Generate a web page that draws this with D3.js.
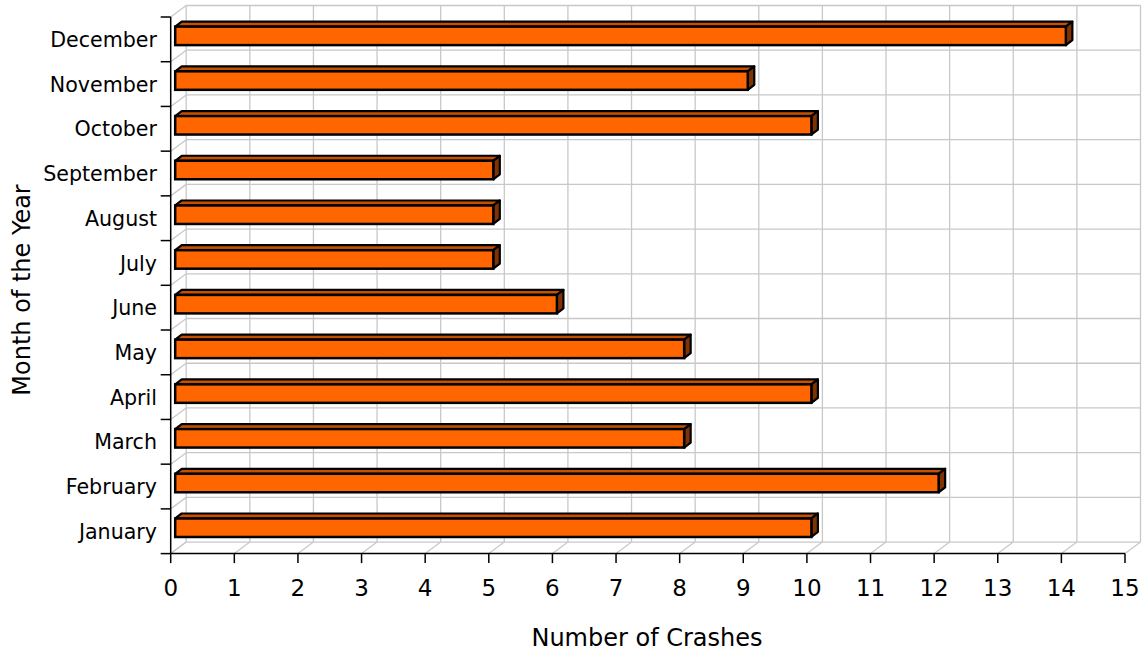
<!DOCTYPE html>
<html>
<head>
<meta charset="utf-8">
<script src="https://cdn.jsdelivr.net/npm/d3@7/dist/d3.min.js"></script>
<style>
  html, body { margin: 0; padding: 0; background: #ffffff; }
  svg { display: block; }
  text { font-family: "DejaVu Sans", Verdana, sans-serif; fill: #000; }
</style>
</head>
<body>
<svg id="chart" width="1146" height="653"></svg>
<script>
// Crashes per month
const months = ["January", "February", "March", "April", "May", "June",
                "July", "August", "September", "October", "November", "December"];
const crashes = [10, 12, 8, 10, 8, 6, 5, 5, 5, 10, 9, 14];
const xTicks = d3.range(0, 16);

const svg = d3.select("#chart");

// Front plane of the 3D plot
const plotLeft = 170.7, plotRight = 1125, plotTop = 17, plotBottom = 553.6;
// Depth vector from the front plane to the back wall
const depth = { dx: 15.5, dy: -11.5 };
// Bar placement inside the depth
const barOff = { dx: 4.5, dy: -3.5 };
const barDepth = { dx: 6.5, dy: -5 };
const barH = 18.5;

const x = d3.scaleLinear().domain([0, 15]).range([plotLeft, plotRight]);
const y = d3.scaleBand().domain(months).range([plotBottom, plotTop]).paddingInner(0).paddingOuter(0);

const grid = "#c8c8c8";
const g = svg.append("g");

// Band boundaries (12 bands -> 13 edges)
const edges = d3.range(0, months.length + 1).map(i => plotBottom - i * y.bandwidth());

// Side wall diagonals
g.selectAll("line.side").data(edges).join("line").attr("class", "side")
  .attr("x1", plotLeft).attr("y1", d => d)
  .attr("x2", plotLeft + depth.dx).attr("y2", d => d + depth.dy)
  .attr("stroke", grid).attr("stroke-width", 1.3);

// Floor diagonals
g.selectAll("line.floor").data(xTicks).join("line").attr("class", "floor")
  .attr("x1", d => x(d)).attr("y1", plotBottom)
  .attr("x2", d => x(d) + depth.dx).attr("y2", plotBottom + depth.dy)
  .attr("stroke", grid).attr("stroke-width", 1.3);

// Back wall horizontal grid
g.selectAll("line.bh").data(edges).join("line").attr("class", "bh")
  .attr("x1", plotLeft + depth.dx).attr("x2", plotRight + depth.dx)
  .attr("y1", d => d + depth.dy).attr("y2", d => d + depth.dy)
  .attr("stroke", grid).attr("stroke-width", 1.3);

// Back wall vertical grid
g.selectAll("line.bv").data(xTicks).join("line").attr("class", "bv")
  .attr("x1", d => x(d) + depth.dx).attr("x2", d => x(d) + depth.dx)
  .attr("y1", plotTop + depth.dy).attr("y2", plotBottom + depth.dy)
  .attr("stroke", grid).attr("stroke-width", 1.3);

// Axes on the front plane
const axisG = svg.append("g");
axisG.append("line").attr("x1", plotLeft).attr("x2", plotLeft).attr("y1", plotTop).attr("y2", plotBottom)
  .attr("stroke", "#000").attr("stroke-width", 1.5);
axisG.append("line").attr("x1", plotLeft).attr("x2", plotRight).attr("y1", plotBottom).attr("y2", plotBottom)
  .attr("stroke", "#000").attr("stroke-width", 1.5);
axisG.selectAll("line.yt").data(edges).join("line").attr("class", "yt")
  .attr("x1", plotLeft - 10).attr("x2", plotLeft).attr("y1", d => d).attr("y2", d => d)
  .attr("stroke", "#000").attr("stroke-width", 1.5);
axisG.selectAll("line.xt").data(xTicks).join("line").attr("class", "xt")
  .attr("x1", d => x(d)).attr("x2", d => x(d)).attr("y1", plotBottom).attr("y2", plotBottom + 9.5)
  .attr("stroke", "#000").attr("stroke-width", 1.5);

// Tick labels
axisG.selectAll("text.xl").data(xTicks).join("text").attr("class", "xl")
  .attr("x", d => x(d)).attr("y", 596)
  .attr("text-anchor", "middle").attr("font-size", 23)
  .text(d => d);
axisG.selectAll("text.yl").data(months).join("text").attr("class", "yl")
  .attr("x", 157).attr("y", d => y(d) + y.bandwidth() / 2 + 7.6)
  .attr("text-anchor", "end").attr("font-size", 20.6)
  .text(d => d);

// Axis titles
svg.append("text").attr("x", 647).attr("y", 646)
  .attr("text-anchor", "middle").attr("font-size", 24)
  .text("Number of Crashes");
svg.append("text")
  .attr("transform", "translate(30,290) rotate(-90)")
  .attr("text-anchor", "middle").attr("font-size", 24)
  .text("Month of the Year");

// 3D bars
const bars = svg.append("g");
const data = months.map((m, i) => ({ month: m, value: crashes[i] }));
const bar = bars.selectAll("g.bar").data(data).join("g").attr("class", "bar");

function geom(d) {
  const xl = x(0) + barOff.dx;
  const xr = x(d.value) + barOff.dx;
  const cy = y(d.month) + y.bandwidth() / 2 + barOff.dy;
  return { xl, xr, yt: cy - barH / 2, yb: cy + barH / 2 };
}

bar.append("polygon")
  .attr("points", d => {
    const b = geom(d);
    return [[b.xl, b.yt], [b.xl + barDepth.dx, b.yt + barDepth.dy],
            [b.xr + barDepth.dx, b.yt + barDepth.dy], [b.xr, b.yt]].join(" ");
  })
  .attr("fill", "#c65000").attr("stroke", "#000").attr("stroke-width", 2.2)
  .attr("stroke-linejoin", "round");

bar.append("polygon")
  .attr("points", d => {
    const b = geom(d);
    return [[b.xr, b.yt], [b.xr + barDepth.dx, b.yt + barDepth.dy],
            [b.xr + barDepth.dx, b.yb + barDepth.dy], [b.xr, b.yb]].join(" ");
  })
  .attr("fill", "#803300").attr("stroke", "#000").attr("stroke-width", 2.2)
  .attr("stroke-linejoin", "round");

bar.append("rect")
  .attr("x", d => geom(d).xl)
  .attr("y", d => geom(d).yt)
  .attr("width", d => geom(d).xr - geom(d).xl)
  .attr("height", barH)
  .attr("fill", "#ff6600").attr("stroke", "#000").attr("stroke-width", 2.5);
</script>
</body>
</html>
